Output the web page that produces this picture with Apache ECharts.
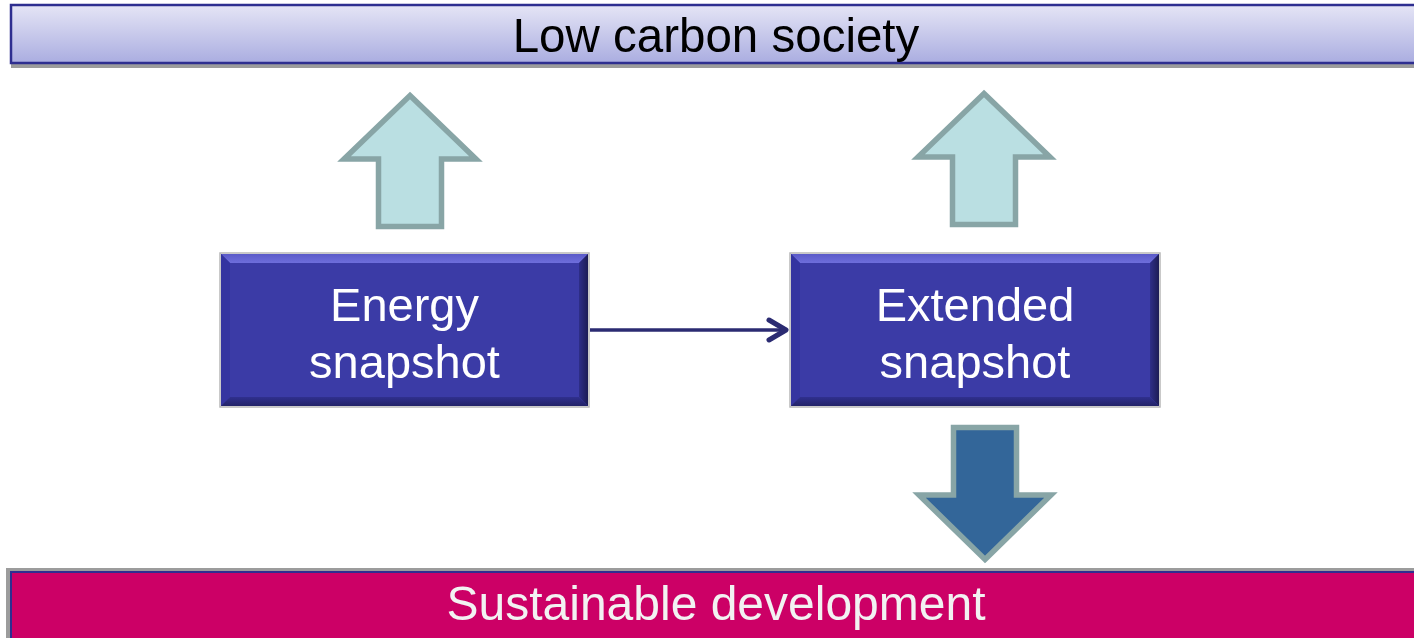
<!DOCTYPE html>
<html>
<head>
<meta charset="utf-8">
<style>
  html, body { margin: 0; padding: 0; background: #fff; }
  #chart { width: 1414px; height: 638px; }
</style>
<script src="https://cdn.jsdelivr.net/npm/echarts@6/dist/echarts.min.js"></script>
</head>
<body>
<div id="chart"></div>
<script>
// labels of the diagram
var bannerLabels = ['Low carbon society', 'Sustainable development']
var boxLabels = ['Energy\nsnapshot', 'Extended\nsnapshot']
var blockArrowKinds = ['up', 'up', 'down']
var links = [[0, 1]] // Energy snapshot -> Extended snapshot

// layout, in pixel units of the hidden axes
var bannerRects = [[11, 5, 1422, 63], [11, 572, 1422, 646]]
var bannerShadows = [[11, 10, 1422, 68], [6, 568, 1414, 646]]
var bannerTextY = [39, 607]
var boxRects = [[221, 254, 588, 406], [791, 254, 1159, 406]]
// cx, tip y, head base y, tail y
var blockArrows = [[410, 92, 159, 229], [984, 90, 157, 227], [985, 563, 495, 425]]
var linkY = 330

var FONT = '"Liberation Sans", Arial, sans-serif'

var chart = echarts.init(document.getElementById('chart'))

function pt(api, x, y) {
  return api.coord([x, y])
}

function rectShape(api, r) {
  var a = pt(api, r[0], r[1])
  var b = pt(api, r[2], r[3])
  return { x: a[0], y: a[1], width: b[0] - a[0], height: b[1] - a[1] }
}

var renderBanner = function(params, api) {
  var i = params.dataIndex
  var s = rectShape(api, bannerShadows[i])
  var r = rectShape(api, bannerRects[i])
  var top = i === 0
  var ty = pt(api, 0, bannerTextY[i])[1]
  return {
    type: 'group',
    children: [
      { type: 'rect', shape: s, style: { fill: '#9c9c9c' } },
      {
        type: 'rect',
        shape: r,
        style: {
          fill: top
            ? new echarts.graphic.LinearGradient(0, 0, 0, 1, [
              { offset: 0, color: '#e6e6f6' },
              { offset: 1, color: '#a9ace0' }
            ])
            : '#cc0066',
          stroke: '#2e2e90',
          lineWidth: top ? 2.5 : 2
        }
      },
      {
        type: 'text',
        style: {
          text: bannerLabels[i],
          x: 716,
          y: ty,
          align: 'center',
          verticalAlign: 'middle',
          fill: top ? '#000000' : '#f2f2f2',
          fontSize: top ? 47.5 : 48,
          fontFamily: FONT
        }
      }
    ]
  }
}

var renderBox = function(params, api) {
  var i = params.dataIndex
  var r = boxRects[i]
  var p0 = pt(api, r[0], r[1])
  var p1 = pt(api, r[2], r[3])
  var x0 = p0[0], y0 = p0[1], x1 = p1[0], y1 = p1[1]
  var b = 9
  return {
    type: 'group',
    children: [
      {
        type: 'rect',
        shape: { x: x0 - 1, y: y0 - 1, width: x1 - x0 + 2, height: y1 - y0 + 2 },
        style: { fill: 'none', stroke: '#b8b8b8', lineWidth: 1.5 }
      },
      { type: 'rect', shape: { x: x0, y: y0, width: x1 - x0, height: y1 - y0 }, style: { fill: '#3b3ba6' } },
      {
        type: 'polygon',
        shape: { points: [[x0, y0], [x1, y0], [x1 - b, y0 + b], [x0 + b, y0 + b]] },
        style: {
          fill: new echarts.graphic.LinearGradient(0, 0, 0, 1, [
            { offset: 0, color: '#5a5ac8' },
            { offset: 1, color: '#6e6edc' }
          ])
        }
      },
      {
        type: 'polygon',
        shape: { points: [[x0, y0], [x0 + b, y0 + b], [x0 + b, y1 - b], [x0, y1]] },
        style: { fill: '#3434a0' }
      },
      {
        type: 'polygon',
        shape: { points: [[x1, y0], [x1, y1], [x1 - b, y1 - b], [x1 - b, y0 + b]] },
        style: {
          fill: new echarts.graphic.LinearGradient(1, 0, 0, 0, [
            { offset: 0, color: '#1c1c55' },
            { offset: 1, color: '#2e2e88' }
          ])
        }
      },
      {
        type: 'polygon',
        shape: { points: [[x0, y1], [x1, y1], [x1 - b, y1 - b], [x0 + b, y1 - b]] },
        style: {
          fill: new echarts.graphic.LinearGradient(0, 1, 0, 0, [
            { offset: 0, color: '#222268' },
            { offset: 1, color: '#30308e' }
          ])
        }
      },
      {
        type: 'text',
        style: {
          text: boxLabels[i],
          x: (x0 + x1) / 2,
          y: (y0 + y1) / 2 + 7,
          align: 'center',
          verticalAlign: 'middle',
          fill: '#ffffff',
          fontSize: 47,
          lineHeight: 57,
          fontFamily: FONT
        }
      }
    ]
  }
}

var renderBlockArrow = function(params, api) {
  var i = params.dataIndex
  var a = blockArrows[i]
  var up = blockArrowKinds[i] === 'up'
  var dir = up ? 1 : -1
  var cx = a[0]
  var tip = a[1] + 3.5 * dir
  var base = a[2]
  var tail = a[3] - 2.5 * dir
  var hh = 66, sh = 31.5
  var pts = [
    [cx, tip], [cx + hh, base], [cx + sh, base], [cx + sh, tail],
    [cx - sh, tail], [cx - sh, base], [cx - hh, base]
  ].map(function(p) { return pt(api, p[0], p[1]) })
  return {
    type: 'polygon',
    shape: { points: pts },
    style: {
      fill: up ? '#badfe2' : '#336699',
      stroke: '#88a5a6',
      lineWidth: 5.5,
      lineJoin: 'miter'
    }
  }
}

var renderLink = function(params, api) {
  var l = links[params.dataIndex]
  var from = boxRects[l[0]]
  var to = boxRects[l[1]]
  var s = pt(api, from[2] + 2, linkY)
  var e = pt(api, to[0] - 5, linkY)
  return {
    type: 'group',
    children: [
      {
        type: 'line',
        shape: { x1: s[0], y1: s[1], x2: e[0] - 1, y2: e[1] },
        style: { stroke: '#2b2b72', lineWidth: 3.5 }
      },
      {
        type: 'polyline',
        shape: { points: [[e[0] - 17, e[1] - 10], [e[0], e[1]], [e[0] - 17, e[1] + 10]] },
        style: { stroke: '#2b2b72', lineWidth: 5, fill: 'none', lineCap: 'round', lineJoin: 'round' }
      }
    ]
  }
}

var option = {
  animation: false,
  backgroundColor: '#ffffff',
  grid: { left: 0, right: 0, top: 0, bottom: 0 },
  xAxis: { type: 'value', min: 0, max: 1414, show: false },
  yAxis: { type: 'value', min: 0, max: 638, inverse: true, show: false },
  series: [
    {
      type: 'custom',
      clip: false,
      renderItem: renderBanner,
      data: bannerLabels.map(function(name, i) {
        return { name: name, value: [bannerRects[i][0], bannerRects[i][1]] }
      })
    },
    {
      type: 'custom',
      clip: false,
      renderItem: renderBlockArrow,
      data: blockArrowKinds.map(function(k, i) {
        return { name: k, value: [blockArrows[i][0], blockArrows[i][1]] }
      })
    },
    {
      type: 'custom',
      clip: false,
      renderItem: renderLink,
      data: links.map(function(l) {
        return { value: [boxRects[l[0]][2], linkY] }
      })
    },
    {
      type: 'custom',
      clip: false,
      renderItem: renderBox,
      data: boxLabels.map(function(name, i) {
        return { name: name, value: [boxRects[i][0], boxRects[i][1]] }
      })
    }
  ]
}

chart.setOption(option)
</script>
</body>
</html>
